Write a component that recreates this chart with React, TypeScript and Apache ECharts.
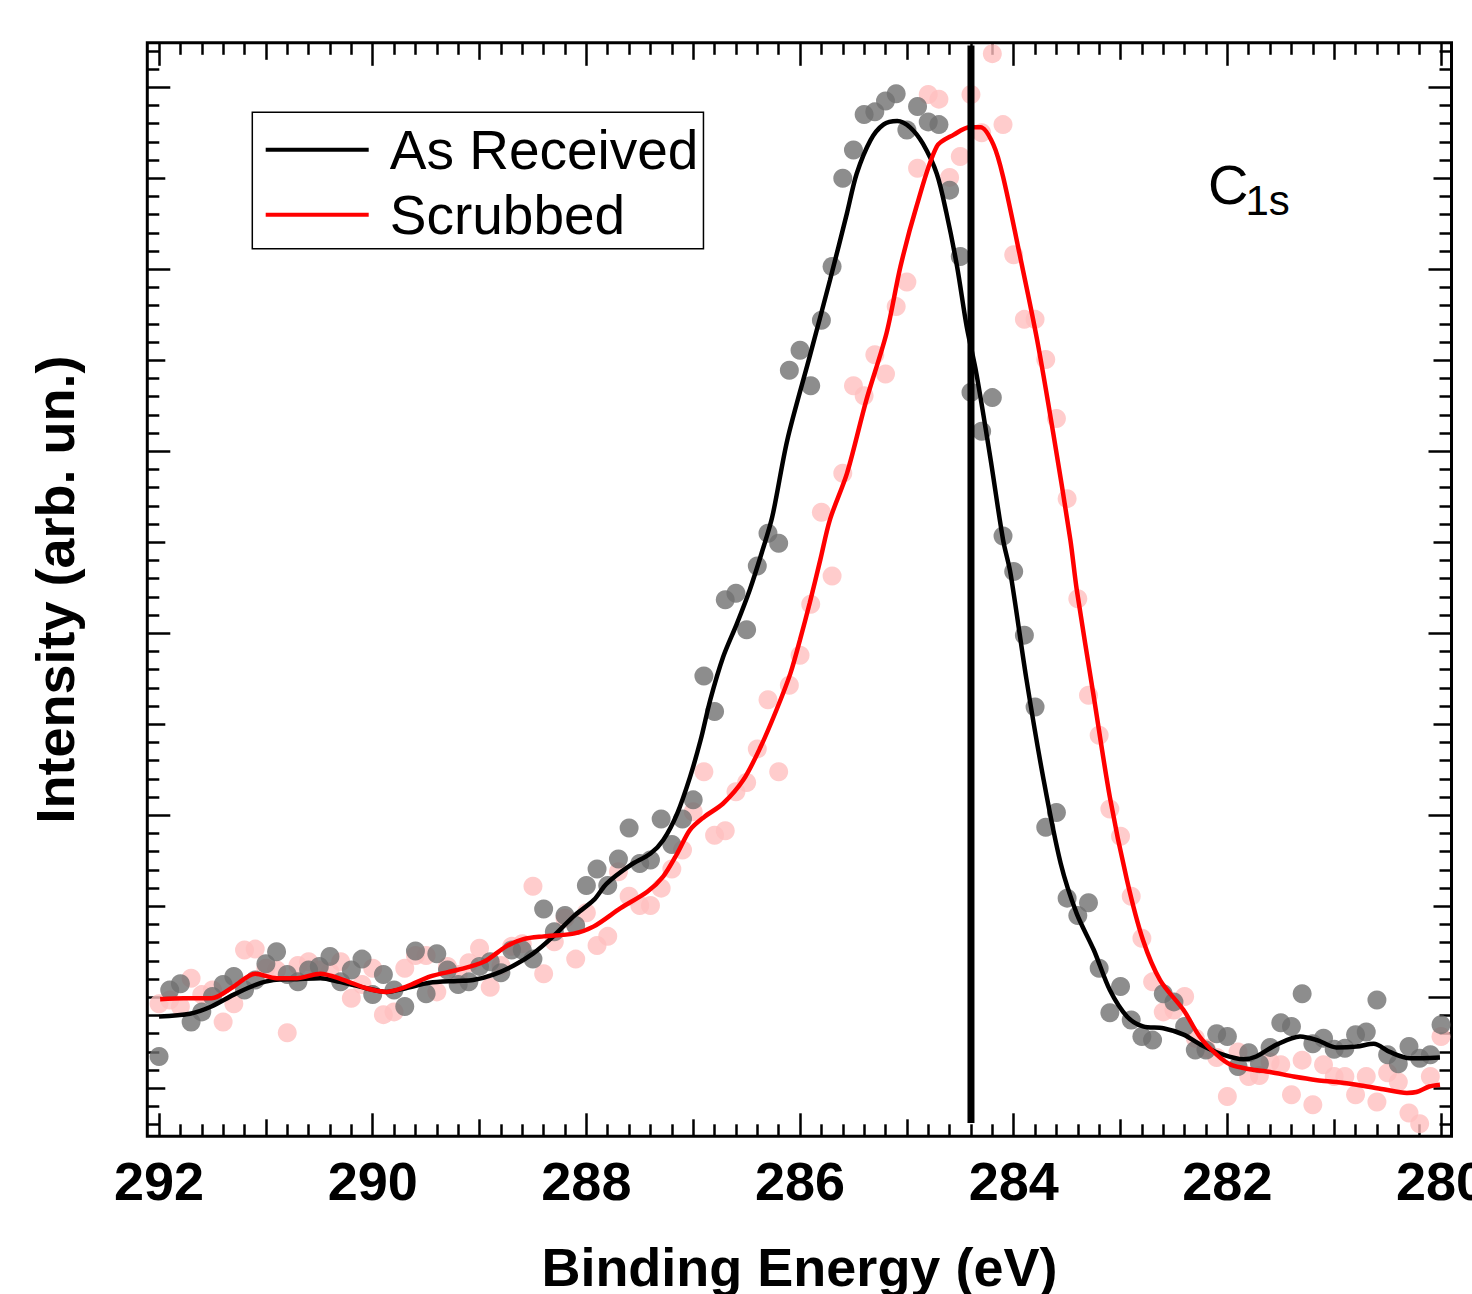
import React, { useEffect, useRef } from 'react';
import * as echarts from 'echarts';

// Binding energies of the measured points (eV)
const energies = [
  292.0, 291.9, 291.8, 291.7, 291.6, 291.5, 291.4, 291.3, 291.2, 291.1,
  291.0, 290.9, 290.8, 290.7, 290.6, 290.5, 290.4, 290.3, 290.2, 290.1,
  290.0, 289.9, 289.8, 289.7, 289.6, 289.5, 289.4, 289.3, 289.2, 289.1,
  289.0, 288.9, 288.8, 288.7, 288.6, 288.5, 288.4, 288.3, 288.2, 288.1,
  288.0, 287.9, 287.8, 287.7, 287.6, 287.5, 287.4, 287.3, 287.2, 287.1,
  287.0, 286.9, 286.8, 286.7, 286.6, 286.5, 286.4, 286.3, 286.2, 286.1,
  286.0, 285.9, 285.8, 285.7, 285.6, 285.5, 285.4, 285.3, 285.2, 285.1,
  285.0, 284.9, 284.8, 284.7, 284.6, 284.5, 284.4, 284.3, 284.2, 284.1,
  284.0, 283.9, 283.8, 283.7, 283.6, 283.5, 283.4, 283.3, 283.2, 283.1,
  283.0, 282.9, 282.8, 282.7, 282.6, 282.5, 282.4, 282.3, 282.2, 282.1,
  282.0, 281.9, 281.8, 281.7, 281.6, 281.5, 281.4, 281.3, 281.2, 281.1,
  281.0, 280.9, 280.8, 280.7, 280.6, 280.5, 280.4, 280.3, 280.2, 280.1,
  280.0,
];

// Measured intensities (arb. units)
const asReceivedCounts = [
  0.35, 1.08, 1.15, 0.73, 0.84, 1.01, 1.14, 1.23, 1.08, 1.19,
  1.37, 1.50, 1.25, 1.17, 1.30, 1.34, 1.45, 1.17, 1.30, 1.42,
  1.03, 1.25, 1.08, 0.90, 1.51, 1.04, 1.48, 1.30, 1.14, 1.17,
  1.34, 1.39, 1.27, 1.52, 1.52, 1.42, 1.97, 1.72, 1.90, 1.79,
  2.23, 2.41, 2.23, 2.52, 2.86, 2.47, 2.51, 2.96, 2.68, 2.96,
  3.17, 4.53, 4.14, 5.37, 5.44, 5.04, 5.74, 6.10, 5.99, 7.89,
  8.11, 7.72, 8.44, 9.03, 10.00, 10.31, 10.70, 10.73, 10.85, 10.93,
  10.53, 10.79, 10.62, 10.59, 9.87, 9.14, 7.65, 7.22, 7.59, 6.07,
  5.68, 4.98, 4.19, 2.87, 3.03, 2.09, 1.90, 2.04, 1.32, 0.83,
  1.12, 0.75, 0.57, 0.53, 1.04, 0.95, 0.68, 0.42, 0.42, 0.60,
  0.57, 0.24, 0.39, 0.27, 0.45, 0.72, 0.68, 1.04, 0.49, 0.55,
  0.43, 0.44, 0.59, 0.62, 0.97, 0.37, 0.27, 0.46, 0.33, 0.37,
  0.70,
];

const scrubbedCounts = [
  0.93, 0.97, 0.90, 1.21, 1.03, 1.08, 0.73, 0.93, 1.52, 1.53,
  1.32, 1.30, 0.61, 1.35, 1.39, 1.30, 1.28, 1.39, 0.99, 1.14,
  1.32, 0.81, 0.84, 1.32, 1.46, 1.46, 1.06, 1.34, 1.25, 1.38,
  1.54, 1.11, 1.35, 1.56, 1.59, 2.22, 1.26, 1.61, 1.87, 1.42,
  1.93, 1.57, 1.67, 2.38, 2.11, 2.01, 2.01, 2.20, 2.41, 2.62,
  3.04, 3.48, 2.78, 2.83, 3.26, 3.36, 3.73, 4.27, 3.48, 4.43,
  4.76, 5.32, 6.33, 5.63, 6.76, 7.72, 7.61, 8.06, 7.85, 8.59,
  8.86, 10.11, 10.92, 10.87, 10.01, 10.24, 10.92, 10.50, 11.37, 10.59,
  9.16, 8.45, 8.45, 8.01, 7.36, 6.48, 5.38, 4.32, 3.88, 3.07,
  2.77, 2.11, 1.65, 1.17, 0.84, 0.86, 1.01, 0.55, 0.44, 0.34,
  -0.09, 0.40, 0.13, 0.14, 0.29, 0.26, -0.07, 0.31, -0.18, 0.26,
  0.13, 0.13, -0.07, 0.13, -0.15, 0.17, 0.07, -0.27, -0.39, 0.13,
  0.57,
];

// Smoothed fit curves
const asReceivedFitBE = [
  292.0, 291.71, 291.51, 291.3, 291.09, 290.93, 290.71, 290.49, 290.31, 290.06,
  289.87, 289.69, 289.47, 289.21, 289.06, 288.87, 288.68, 288.5, 288.31, 288.12,
  287.93, 287.81, 287.59, 287.4, 287.28, 287.15, 287.03, 286.93, 286.84, 286.72,
  286.59, 286.47, 286.36, 286.26, 286.12, 285.91, 285.72, 285.56, 285.47, 285.34,
  285.22, 285.09, 284.97, 284.85, 284.72, 284.63, 284.53, 284.44, 284.35, 284.22,
  284.1, 284.03, 283.88, 283.72, 283.56, 283.41, 283.25, 283.1, 282.94, 282.79,
  282.6, 282.41, 282.25, 282.04, 281.85, 281.73, 281.54, 281.32, 281.16, 280.98,
  280.79, 280.63, 280.48, 280.29, 280.01,
];
const asReceivedFit = [
  0.79, 0.82, 0.9, 1.03, 1.14, 1.19, 1.2, 1.21, 1.17, 1.1,
  1.06, 1.1, 1.16, 1.18, 1.19, 1.25, 1.35, 1.48, 1.67, 1.89,
  2.07, 2.25, 2.45, 2.58, 2.73, 3.02, 3.42, 3.83, 4.27, 4.74,
  5.11, 5.48, 5.88, 6.28, 7.12, 8.04, 8.88, 9.62, 10.05, 10.42,
  10.59, 10.63, 10.56, 10.38, 10.05, 9.62, 9.03, 8.37, 7.86, 6.94,
  6.03, 5.66, 4.49, 3.39, 2.47, 1.92, 1.52, 1.08, 0.79, 0.68,
  0.66, 0.59, 0.48, 0.37, 0.32, 0.35, 0.48, 0.57, 0.53, 0.45,
  0.46, 0.49, 0.4, 0.33, 0.34,
];

const scrubbedFitBE = [
  291.99, 291.77, 291.51, 291.3, 291.1, 290.9, 290.71, 290.49, 290.27, 290.06,
  289.87, 289.68, 289.46, 289.21, 288.96, 288.75, 288.59, 288.4, 288.12, 287.93,
  287.68, 287.43, 287.28, 287.15, 287.03, 286.9, 286.72, 286.53, 286.37, 286.22,
  286.09, 286.0, 285.91, 285.81, 285.72, 285.56, 285.38, 285.19, 285.06, 284.91,
  284.72, 284.56, 284.41, 284.31, 284.19, 284.1, 283.94, 283.78, 283.63, 283.47,
  283.41, 283.25, 283.1, 282.94, 282.79, 282.63, 282.41, 282.26, 282.1, 281.97,
  281.79, 281.6, 281.38, 281.16, 280.98, 280.79, 280.54, 280.32, 280.23, 280.11,
  280.01,
];
const scrubbedFit = [
  0.98, 0.99, 0.99, 1.12, 1.26, 1.21, 1.21, 1.26, 1.19, 1.1,
  1.06, 1.12, 1.23, 1.3, 1.39, 1.56, 1.64, 1.67, 1.7, 1.78,
  1.98, 2.16, 2.33, 2.58, 2.84, 2.98, 3.13, 3.39, 3.75, 4.16,
  4.56, 4.93, 5.33, 5.81, 6.25, 6.76, 7.56, 8.3, 9.03, 9.69,
  10.35, 10.48, 10.56, 10.56, 10.37, 10.02, 9.14, 8.22, 7.2, 6.03,
  5.48, 4.3, 3.2, 2.29, 1.63, 1.19, 0.86, 0.57, 0.37, 0.26,
  0.21, 0.18, 0.13, 0.09, 0.07, 0.04, -0.01, -0.05, -0.04, 0.02,
  0.04,
];

// Reference line at the C 1s position
const refLineBE = 284.4;
const refLineSpan = [-0.38, 11.46];

// Axis ticks
const xLabelValues = [292, 290, 288, 286, 284, 282, 280];
const xMidTickValues = [291, 289, 287, 285, 283, 281];
const yMajorTickValues = [1, 3, 5, 7, 9, 11];
const yMidTickValues = [0, 2, 4, 6, 8, 10];

const X_MIN = 279.902;
const X_MAX = 292.11;
const Y_MIN = -0.527;
const Y_MAX = 11.489;

const FONT = '"Liberation Sans", Arial, Helvetica, sans-serif';

function minorTicks(from: number, to: number): number[] {
  const out: number[] = [];
  for (let k = Math.round(from * 5); k <= Math.round(to * 5); k++) {
    if (k % 5 !== 0) out.push(k / 5);
  }
  return out;
}

const xMinorTickValues = minorTicks(280, 292);
const yMinorTickValues = minorTicks(-0.4, 11.4);

function tickAxis(kind: 'x' | 'y', position: string, values: number[], length: number, extra: any = {}) {
  const base: any = {
    type: 'value',
    position,
    min: kind === 'x' ? X_MIN : Y_MIN,
    max: kind === 'x' ? X_MAX : Y_MAX,
    axisLine: { show: false, onZero: false },
    splitLine: { show: false },
    axisTick: {
      show: true,
      inside: true,
      length,
      customValues: values,
      lineStyle: { color: '#000', width: 2.5 },
    },
    axisLabel: { show: false },
  };
  if (kind === 'x') base.inverse = true;
  return Object.assign(base, extra);
}

export default function App() {
  const ref = useRef<HTMLDivElement>(null);

  useEffect(() => {
    if (!ref.current) return;
    const chart = echarts.init(ref.current, undefined, { renderer: 'svg' });

    const boldLabel = {
      show: true,
      customValues: xLabelValues,
      margin: 18,
      fontSize: 54,
      fontWeight: 'bold',
      color: '#000',
      fontFamily: FONT,
    };

    const option: any = {
      animation: false,
      backgroundColor: '#fff',
      grid: {
        left: 147.3,
        top: 42.8,
        width: 1304.2,
        height: 1093.5,
        show: true,
        borderColor: '#000',
        borderWidth: 3,
        backgroundColor: 'transparent',
        containLabel: false,
        outerBoundsMode: 'none',
      },
      xAxis: [
        tickAxis('x', 'bottom', xLabelValues, 23, {
          axisLabel: boldLabel,
          name: 'Binding Energy (eV)',
          nameLocation: 'middle',
          nameGap: 104,
          nameTextStyle: { fontSize: 54, fontWeight: 'bold', color: '#000', fontFamily: FONT },
        }),
        tickAxis('x', 'bottom', xMidTickValues, 17),
        tickAxis('x', 'bottom', xMinorTickValues, 12),
        tickAxis('x', 'top', xLabelValues, 23),
        tickAxis('x', 'top', xMidTickValues, 17),
        tickAxis('x', 'top', xMinorTickValues, 12),
      ],
      yAxis: [
        tickAxis('y', 'left', yMajorTickValues, 23, {
          name: 'Intensity (arb. un.)',
          nameLocation: 'middle',
          nameGap: 65,
          nameTextStyle: { fontSize: 54, fontWeight: 'bold', color: '#000', fontFamily: FONT },
        }),
        tickAxis('y', 'left', yMidTickValues, 18),
        tickAxis('y', 'left', yMinorTickValues, 12),
        tickAxis('y', 'right', yMajorTickValues, 23),
        tickAxis('y', 'right', yMidTickValues, 18),
        tickAxis('y', 'right', yMinorTickValues, 12),
      ],
      legend: {
        orient: 'vertical',
        left: 252.3,
        top: 112.3,
        padding: [10, 5, 6.4, 13.4],
        itemWidth: 103,
        itemHeight: 4,
        itemGap: 10,
        selectedMode: false,
        borderColor: '#000',
        borderWidth: 1.5,
        backgroundColor: '#fff',
        textStyle: { fontSize: 55, color: '#000', fontFamily: FONT, padding: [0, 0, 0, 16] },
        data: [
          { name: 'As Received', icon: 'rect' },
          { name: 'Scrubbed', icon: 'rect' },
        ],
      },
      graphic: [
        {
          type: 'text',
          x: 1208,
          y: 184,
          style: { text: 'C', font: `56px ${FONT}`, fill: '#000', verticalAlign: 'middle', align: 'left' },
        },
        {
          type: 'text',
          x: 1245.5,
          y: 200,
          style: { text: '1s', font: `42px ${FONT}`, fill: '#000', verticalAlign: 'middle', align: 'left' },
        },
      ],
      series: [
        {
          name: 'Scrubbed data',
          type: 'scatter',
          symbol: 'circle',
          symbolSize: 19,
          itemStyle: { color: '#ffbfbf' },
          data: energies.map((e, i) => [e, scrubbedCounts[i]]),
          z: 2,
        },
        {
          name: 'As Received data',
          type: 'scatter',
          symbol: 'circle',
          symbolSize: 19,
          itemStyle: { color: '#717171' },
          data: energies.map((e, i) => [e, asReceivedCounts[i]]),
          z: 3,
        },
        {
          name: 'As Received',
          type: 'line',
          color: '#000',
          showSymbol: false,
          smooth: 0.3,
          lineStyle: { color: '#000', width: 4.5 },
          data: asReceivedFitBE.map((e, i) => [e, asReceivedFit[i]]),
          z: 4,
        },
        {
          name: 'Scrubbed',
          type: 'line',
          color: '#ff0000',
          showSymbol: false,
          smooth: 0.3,
          lineStyle: { color: '#ff0000', width: 4.5 },
          data: scrubbedFitBE.map((e, i) => [e, scrubbedFit[i]]),
          z: 5,
        },
        {
          name: 'C 1s reference',
          type: 'line',
          color: '#000',
          showSymbol: false,
          lineStyle: { color: '#000', width: 7 },
          data: [
            [refLineBE, refLineSpan[0]],
            [refLineBE, refLineSpan[1]],
          ],
          z: 6,
        },
      ],
    };

    chart.setOption(option);
    return () => chart.dispose();
  }, []);

  return (
    <div
      ref={ref}
      style={{ position: 'absolute', left: 0, top: 0, width: 1472, height: 1294, background: '#fff' }}
    />
  );
}
